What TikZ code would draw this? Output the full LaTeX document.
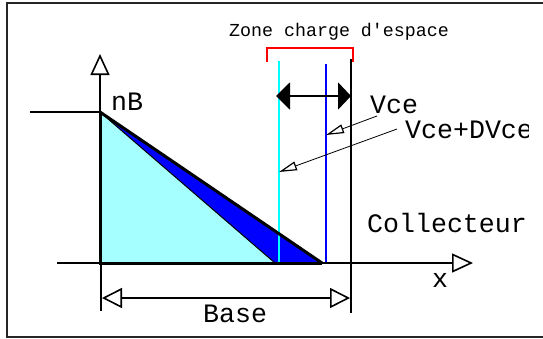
\documentclass[tikz,border=0pt]{standalone}
\usepackage{fontspec}
\setmonofont{Liberation Mono}
\usepackage{tikz}
\usetikzlibrary{arrows.meta}
\definecolor{baselight}{HTML}{A6FFFF}
\definecolor{zoneblue}{HTML}{0000FF}
\definecolor{zonecyan}{HTML}{00FFFF}
\definecolor{zonered}{HTML}{FF0000}
\newcommand{\zonebar}[4]{%
  \draw[#4,line width=1.8pt] (#1,#2)--(#1,#3);
}

\begin{document}
\begin{tikzpicture}[x=1pt,y=-1pt,font=\ttfamily\fontsize{26.6}{29}\selectfont,
    lbl/.style={inner sep=0pt,anchor=base west},
    bigopen/.style={-{Triangle[open,length=21pt,width=19pt,line width=1.6pt]}},
    leader/.style={line width=0.8pt,-{Triangle[open,length=18pt,width=9pt,line width=1.2pt]}}]
  \useasboundingbox (0,0) rectangle (543,338);
  \draw[line width=1.6pt,black!85] (543,3)--(7,3)--(7,337)--(543,337);
  \fill[baselight] (100,112)--(100,263)--(275,263)--cycle;
  \fill[zoneblue] (100,112)--(275,263)--(322,263)--cycle;
  \zonebar{279}{61}{263}{zonecyan}
  \zonebar{326}{64}{263}{zoneblue}
  \zonebar{351}{59}{313}{black}
  \zonebar{101}{263}{311}{black}
  \draw[bigopen,line width=1.6pt] (100,112)--(100,54);
  \draw[line width=2pt] (30,112)--(100,112);
  \draw[bigopen,line width=1.8pt] (57,263)--(473,263);
  \draw[line width=1pt] (100,112)--(275,263);
  \draw[line width=3pt,line join=round] (100,112)--(322,263);
  \draw[line width=3pt,line join=miter] (100,112)--(100,263)--(322,263);
  \draw[zonered,line width=2pt] (267,62)--(267,48)--(353,48)--(353,62);
  \draw[line width=2.2pt,{Triangle[length=14pt,width=27pt]}-{Triangle[length=13pt,width=27pt]}] (276,96)--(351,96);
  \draw[line width=1.2pt,{Triangle[open,length=20pt,width=20pt,line width=1.6pt]}-{Triangle[open,length=20pt,width=20pt,line width=1.6pt]}] (102,298)--(350,298);
  \node[lbl,font=\ttfamily\fontsize{18.3}{20}\selectfont] (zone) at (229,36) {Zone charge d'espace};
  \node[lbl] (nb) at (111,110) {nB};
  \node[lbl] (xlab) at (432,287) {x};
  \node[lbl] (base) at (203,322) {Base};
  \begin{scope}
    \clip (0,0) rectangle (528,338);
    \node[lbl] (vce) at (370,113) {Vce};
    \node[lbl] (dvce) at (405,138) {Vce+DVce};
    \node[lbl] (coll) at (367,232) {Collecteur};
  \end{scope}
  \coordinate (vcetip) at (326,135);
  \coordinate (dvcetip) at (279,172);
  \draw[leader] ([shift={(7,3)}]vce.base west)--(vcetip);
  \draw[leader] ([shift={(-8,-9)}]dvce.base west)--(dvcetip);
\end{tikzpicture}
\end{document}
